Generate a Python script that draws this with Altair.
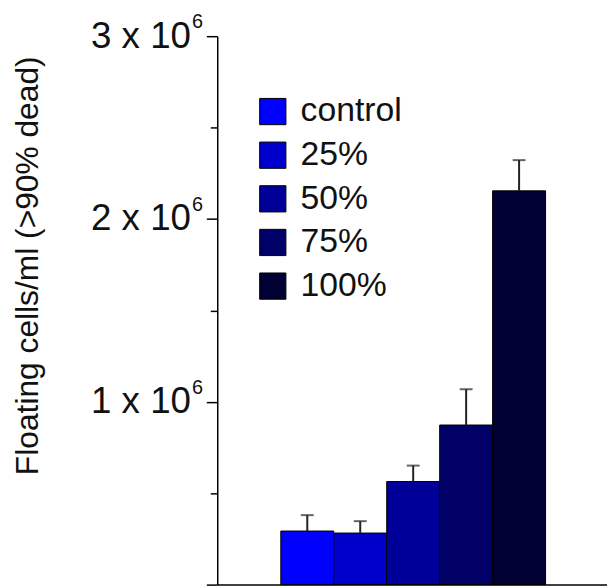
import altair as alt
import pandas as pd

groups = ["control", "25%", "50%", "75%", "100%"]
means = [293000, 282000, 564000, 873000, 2154000]
upper = [380000, 347000, 651000, 1069000, 2322000]
colors = ["#0000FF", "#0000CC", "#000099", "#000066", "#000033"]
y_ticks = [0, 500000, 1000000, 1500000, 2000000, 2500000, 3000000]
label_ticks = [1000000, 2000000, 3000000]
exponent = "6"

df = pd.DataFrame({"group": groups, "mean": means, "upper": upper,
                   "idx": list(range(len(groups)))})
df_lab = pd.DataFrame({"v": label_ticks, "exp": [exponent] * len(label_ticks)})

FONT = "Liberation Sans"

x_scale = alt.Scale(domain=[-1.7, 5.66], nice=False, zero=False, padding=0)
x_axis = alt.Axis(labels=False, ticks=False, title=None, grid=False,
                  domainColor="black", domainWidth=1.5)

y_axis = alt.Axis(
    values=y_ticks,
    labelExpr="datum.value > 0 && datum.value % 1000000 === 0 ? (datum.value / 1000000) + ' x 10' : ''",
    tickSize={"condition": {"test": "datum.value % 1000000 === 0", "value": 11}, "value": 7},
    tickColor="black", tickWidth=1.5,
    domainColor="black", domainWidth=1.5,
    labelFont=FONT, labelFontSize=37, labelColor="#111111",
    labelPadding=16, labelBaseline="middle",
    grid=False,
    title="Floating cells/ml (>90% dead)",
    titleFont=FONT, titleFontSize=32, titleFontWeight="normal", titleColor="#111111",
    titleAngle=270, titleBaseline="middle", titleAlign="center",
    titleX=-191, titleY=231,
)
y_scale = alt.Scale(domain=[0, 3000000], nice=False, padding=0)

base = alt.Chart(df).transform_calculate(
    x0="datum.idx - 0.5", x1="datum.idx + 0.5", zero="0"
)

bars = base.mark_bar(stroke="black", strokeWidth=1).encode(
    x=alt.X("x0:Q", scale=x_scale, axis=x_axis),
    x2="x1:Q",
    y=alt.Y("mean:Q", scale=y_scale, axis=y_axis),
    y2="zero:Q",
    color=alt.Color("group:N", sort=groups,
                    scale=alt.Scale(domain=groups, range=colors),
                    legend=alt.Legend(
                        title=None, orient="none", legendX=39, legendY=59,
                        symbolType="square", symbolSize=700,
                        symbolStrokeColor="black", symbolStrokeWidth=1,
                        labelFont=FONT, labelFontSize=34, labelColor="#111111",
                        labelOffset=11, rowPadding=10, padding=0,
                        labelLimit=300,
                    )),
)

rules = base.mark_rule(color="#222222", strokeWidth=2).encode(
    x=alt.X("idx:Q", scale=x_scale),
    y=alt.Y("mean:Q", scale=y_scale),
    y2="upper:Q",
)

caps = base.mark_tick(color="#222222", thickness=2, size=13, orient="horizontal").encode(
    x=alt.X("idx:Q", scale=x_scale),
    y=alt.Y("upper:Q", scale=y_scale),
)

sup = alt.Chart(df_lab).mark_text(
    font=FONT, fontSize=20, color="#111111", align="center", baseline="middle", dy=-14
).encode(
    x=alt.value(-20),
    y=alt.Y("v:Q", scale=y_scale),
    text="exp:N",
)

chart = alt.layer(bars, rules, caps, sup).properties(
    width=393, height=553,
    autosize=alt.AutoSizeParams(type="none"),
    padding={"left": 211, "top": 26, "right": 0, "bottom": 1},
).configure_view(stroke=None)

chart.save("out.html", embed_options={"renderer": "svg", "actions": False})
